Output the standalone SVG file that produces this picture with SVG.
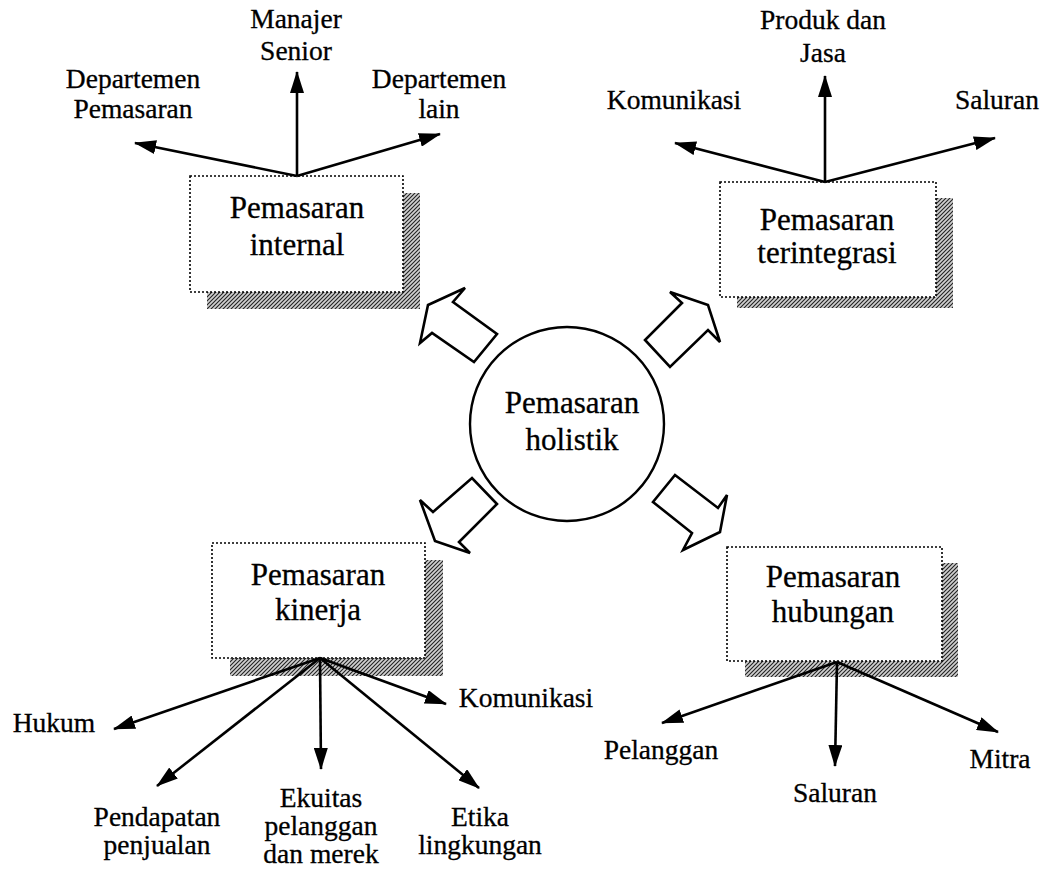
<svg xmlns="http://www.w3.org/2000/svg" width="1043" height="869" viewBox="0 0 1043 869">
<defs>
<pattern id="hatch" patternUnits="userSpaceOnUse" width="4" height="4">
<rect width="4" height="4" fill="#d0d0d0"/>
<path d="M-1,1 L1,-1 M0,4 L4,0 M3,5 L5,3" stroke="#222" stroke-width="1.1"/>
</pattern>
<marker id="ah" viewBox="0 0 22 14" refX="21" refY="7" markerWidth="22" markerHeight="14" orient="auto" markerUnits="userSpaceOnUse">
<path d="M0,0 L22,7 L0,14 Z" fill="#000"/>
</marker>
</defs>
<style>
.box{fill:#fff;stroke:#000;stroke-width:1.6;stroke-dasharray:2 2}
.shadow{fill:url(#hatch)}
.bt{font-family:"Liberation Serif","Times New Roman",serif;font-size:31px;fill:#000;stroke:#000;stroke-width:0.3;text-anchor:middle}
.lb{font-family:"Liberation Serif","Times New Roman",serif;font-size:27.5px;fill:#000;stroke:#000;stroke-width:0.3;text-anchor:middle}
.ln{stroke:#000;stroke-width:2.6;fill:none;marker-end:url(#ah)}
.blk{fill:#fff;stroke:#000;stroke-width:2.6;stroke-linejoin:miter}
</style>
<rect width="1043" height="869" fill="#fff"/>

<g id="holistik">
<circle cx="567" cy="424" r="97" fill="#fff" stroke="#000" stroke-width="2.4"/>
<text class="bt" x="572" y="413">Pemasaran</text>
<text class="bt" x="572" y="450">holistik</text>
</g>

<g id="internal">
<rect class="shadow" x="207" y="193" width="213" height="116"/>
<rect class="box" x="190" y="176" width="213" height="116"/>
<text class="bt" x="297" y="218">Pemasaran</text>
<text class="bt" x="297" y="255">internal</text>
</g>

<g id="terintegrasi">
<rect class="shadow" x="737" y="198" width="216" height="110"/>
<rect class="box" x="720" y="182" width="216" height="115"/>
<text class="bt" x="827" y="230">Pemasaran</text>
<text class="bt" x="827" y="263">terintegrasi</text>
</g>

<g id="kinerja">
<rect class="shadow" x="230" y="560" width="213" height="116"/>
<rect class="box" x="212" y="543" width="213" height="115"/>
<text class="bt" x="318" y="585">Pemasaran</text>
<text class="bt" x="318" y="620">kinerja</text>
</g>

<g id="hubungan">
<rect class="shadow" x="745" y="563" width="213" height="114"/>
<rect class="box" x="727" y="547" width="215" height="114"/>
<text class="bt" x="833" y="587">Pemasaran</text>
<text class="bt" x="833" y="622">hubungan</text>
</g>

<g id="labels">
<text class="lb" x="296" y="28">Manajer</text>
<text class="lb" x="296" y="60">Senior</text>
<text class="lb" x="133" y="88">Departemen</text>
<text class="lb" x="133" y="118">Pemasaran</text>
<text class="lb" x="439" y="88">Departemen</text>
<text class="lb" x="439" y="118">lain</text>
<text class="lb" x="823" y="29">Produk dan</text>
<text class="lb" x="823" y="62">Jasa</text>
<text class="lb" x="674" y="109">Komunikasi</text>
<text class="lb" x="997" y="109">Saluran</text>
<text class="lb" x="54" y="732">Hukum</text>
<text class="lb" x="526" y="707">Komunikasi</text>
<text class="lb" x="157" y="826">Pendapatan</text>
<text class="lb" x="157" y="854">penjualan</text>
<text class="lb" x="321" y="807">Ekuitas</text>
<text class="lb" x="321" y="835">pelanggan</text>
<text class="lb" x="321" y="863">dan merek</text>
<text class="lb" x="480" y="826">Etika</text>
<text class="lb" x="480" y="854">lingkungan</text>
<text class="lb" x="661" y="759">Pelanggan</text>
<text class="lb" x="835" y="802">Saluran</text>
<text class="lb" x="1000" y="768">Mitra</text>
</g>

<g id="connectors">
<polygon class="blk" points="428,305 465,288 453,302 497,334 474,362 432,333 420,343"/>
<polygon class="blk" points="708,305 670,292 682,303 645,340 670,367 708,330 720,342"/>
<polygon class="blk" points="435,541 470,553 459,542 497,504 472,478 433,512 420,500"/>
<polygon class="blk" points="720,532 727,495 718,508 675,475 653,502 692,533 683,550"/>

<line class="ln" x1="297" y1="176" x2="135" y2="143"/>
<line class="ln" x1="297" y1="176" x2="297" y2="72"/>
<line class="ln" x1="297" y1="176" x2="440" y2="134"/>

<line class="ln" x1="825" y1="182" x2="675" y2="143"/>
<line class="ln" x1="825" y1="182" x2="825" y2="76"/>
<line class="ln" x1="825" y1="182" x2="995" y2="138"/>

<line class="ln" x1="320" y1="658" x2="114" y2="729"/>
<line class="ln" x1="320" y1="658" x2="157" y2="786"/>
<line class="ln" x1="320" y1="658" x2="321" y2="769"/>
<line class="ln" x1="320" y1="658" x2="479" y2="788"/>
<line class="ln" x1="320" y1="658" x2="446" y2="704"/>

<line class="ln" x1="837" y1="662" x2="662" y2="723"/>
<line class="ln" x1="837" y1="662" x2="835" y2="766"/>
<line class="ln" x1="837" y1="662" x2="998" y2="732"/>
</g>
</svg>
